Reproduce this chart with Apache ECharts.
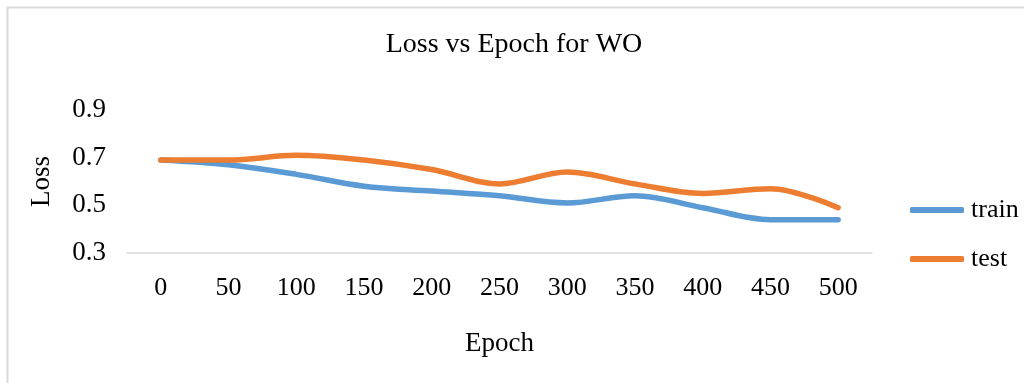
<!DOCTYPE html>
<html>
<head>
<meta charset="utf-8">
<script src="https://cdn.jsdelivr.net/npm/echarts@6/dist/echarts.min.js"></script>
<style>
html,body{margin:0;padding:0;background:#fff;}
#chart{width:1024px;height:383px;}
</style>
</head>
<body>
<div id="chart"></div>
<script>
const epochs = ['0','50','100','150','200','250','300','350','400','450','500'];
const trainLoss = [0.69, 0.67, 0.63, 0.58, 0.56, 0.54, 0.51, 0.54, 0.49, 0.44, 0.44];
const testLoss  = [0.69, 0.69, 0.71, 0.69, 0.65, 0.59, 0.64, 0.59, 0.55, 0.57, 0.49];
const yTicks = [0.3, 0.5, 0.7, 0.9];

const font = '"Liberation Serif", "Times New Roman", serif';
const chart = echarts.init(document.getElementById('chart'));
chart.setOption({
  animation: false,
  backgroundColor: '#fff',
  graphic: [{
    type: 'rect', left: 5, top: 5, silent: true,
    shape: { width: 1040, height: 400 },
    style: { fill: 'none', stroke: '#d9d9d9', lineWidth: 2 }
  }],
  title: {
    text: 'Loss vs Epoch for WO',
    left: 509, top: 26, textAlign: 'center',
    textStyle: { fontFamily: font, fontSize: 28, fontWeight: 'normal', color: '#000' }
  },
  legend: {
    orient: 'vertical', left: 905, top: 192,
    itemWidth: 54, itemHeight: 6, itemGap: 23,
    icon: 'roundRect',
    textStyle: { fontFamily: font, fontSize: 26, color: '#000', padding: [0,0,0,2] },
    data: ['train', 'test']
  },
  grid: { left: 127, right: 152, top: 110, bottom: 130 },
  xAxis: {
    type: 'category', data: epochs, boundaryGap: true,
    name: 'Epoch', nameLocation: 'middle', nameGap: 77,
    nameTextStyle: { fontFamily: font, fontSize: 27, color: '#000' },
    axisLine: { lineStyle: { color: '#d9d9d9', width: 1.5 } },
    axisTick: { show: false },
    axisLabel: { fontFamily: font, fontSize: 26, color: '#000', margin: 22 }
  },
  yAxis: {
    type: 'value', min: yTicks[0], max: yTicks[yTicks.length-1], interval: 0.2,
    name: 'Loss', nameLocation: 'middle', nameGap: 72, nameRotate: 90,
    nameTextStyle: { fontFamily: font, fontSize: 27, color: '#000' },
    axisLine: { show: false }, axisTick: { show: false },
    splitLine: { show: false },
    axisLabel: { fontFamily: font, fontSize: 27, color: '#000', margin: 21,
      formatter: v => v.toFixed(1) }
  },
  series: [
    { name: 'train', type: 'line', data: trainLoss, smooth: 0.35, showSymbol: false, symbol: 'none',
      lineStyle: { color: '#5B9BD5', width: 5.5, cap: 'round' }, itemStyle: { color: '#5B9BD5' } },
    { name: 'test', type: 'line', data: testLoss, smooth: 0.35, showSymbol: false, symbol: 'none',
      lineStyle: { color: '#ED7D31', width: 5.5, cap: 'round' }, itemStyle: { color: '#ED7D31' } }
  ]
});
</script>
</body>
</html>
